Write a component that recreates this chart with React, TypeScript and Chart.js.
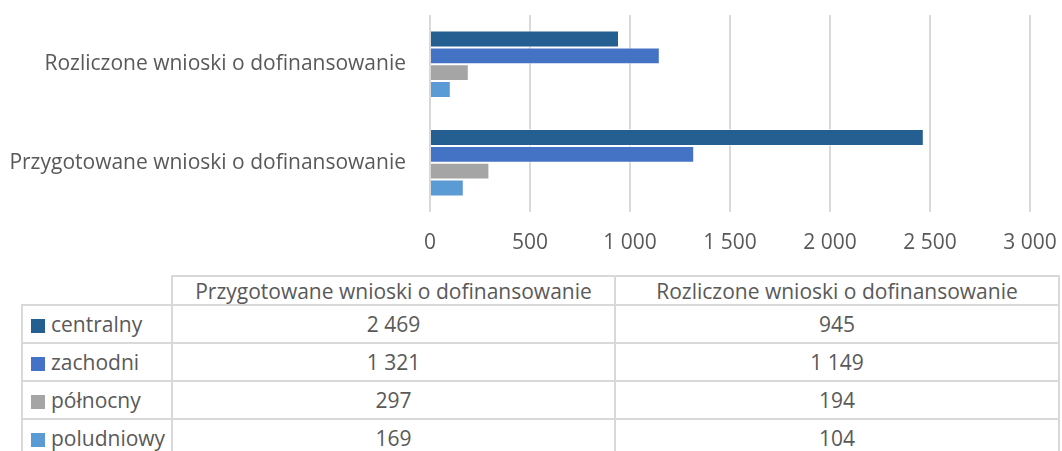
import React, { useEffect, useRef } from "react";
import { Chart, registerables } from "chart.js";

Chart.register(...registerables);

const categories = [
  "Przygotowane wnioski o dofinansowanie",
  "Rozliczone wnioski o dofinansowanie",
];
const seriesNames = ["centralny", "zachodni", "północny", "poludniowy"];
const centralny = [2469, 945];
const zachodni = [1321, 1149];
const polnocny = [297, 194];
const poludniowy = [169, 104];
const seriesValues = [centralny, zachodni, polnocny, poludniowy];
const seriesColors = ["#255E91", "#4472C4", "#A5A5A5", "#5B9BD5"];
const xTicks = [0, 500, 1000, 1500, 2000, 2500, 3000];

const FONT = "'Open Sans', sans-serif";
const TEXT = "#595959";
const LINE = "#d9d9d9";

const fmt = (v: number) =>
  String(v).replace(/\B(?=(\d{3})+(?!\d))/g, " ");

const CANVAS_W = 1062;
const CANVAS_H = 265;

export default function App() {
  const ref = useRef<HTMLCanvasElement | null>(null);

  useEffect(() => {
    if (!ref.current) return;
    const chart = new Chart(ref.current, {
      type: "bar",
      data: {
        labels: categories,
        datasets: seriesNames.map((name, i) => ({
          label: name,
          data: seriesValues[i],
          backgroundColor: seriesColors[i],
          borderColor: "rgba(255,255,255,0.55)",
          borderWidth: 1,
          categoryPercentage: 0.685,
          barPercentage: 1,
        })),
      },
      options: {
        indexAxis: "y",
        responsive: false,
        animation: false,
        devicePixelRatio: 1,
        layout: { padding: { top: 15, right: 32, left: 0, bottom: 0 } },
        plugins: {
          legend: { display: false },
          tooltip: { enabled: false },
        },
        scales: {
          x: {
            type: "linear",
            min: xTicks[0],
            max: xTicks[xTicks.length - 1],
            afterBuildTicks: (scale: any) => {
              scale.ticks = xTicks.map((v) => ({ value: v }));
            },
            ticks: {
              color: TEXT,
              font: { family: FONT, size: 21 },
              padding: 18,
              maxRotation: 0,
              callback: (v: any) => fmt(Number(v)),
            },
            grid: { color: LINE, lineWidth: 2, drawTicks: false },
            border: { display: false },
            afterFit: (scale: any) => {
              scale.height = CANVAS_H - 15 - 197;
              scale.paddingLeft = 0;
              scale.paddingRight = 0;
            },
          },
          y: {
            reverse: true,
            ticks: {
              color: TEXT,
              font: { family: FONT, size: 21 },
              padding: 24,
            },
            grid: { display: false, drawTicks: false },
            border: { display: false },
            afterFit: (scale: any) => {
              scale.width = 430;
              scale.paddingTop = 0;
              scale.paddingBottom = 0;
            },
          },
        },
      },
    });
    return () => chart.destroy();
  }, []);

  const cellBase: React.CSSProperties = {
    border: `2px solid ${LINE}`,
    padding: 0,
    color: TEXT,
    fontFamily: FONT,
    fontSize: 21,
    fontWeight: 400,
    verticalAlign: "middle",
    whiteSpace: "nowrap",
    overflow: "hidden",
  };

  return (
    <div
      style={{
        position: "absolute",
        left: 0,
        top: 0,
        width: CANVAS_W,
        height: 451,
        overflow: "hidden",
        background: "#ffffff",
      }}
    >
      <canvas
        ref={ref}
        width={CANVAS_W}
        height={CANVAS_H}
        style={{ position: "absolute", left: 0, top: 0, width: CANVAS_W, height: CANVAS_H }}
      />
      <table
        style={{
          position: "absolute",
          left: 21,
          top: 275,
          borderCollapse: "collapse",
          tableLayout: "fixed",
          width: 1037,
        }}
      >
        <colgroup>
          <col style={{ width: 150 }} />
          <col style={{ width: 443 }} />
          <col style={{ width: 444 }} />
        </colgroup>
        <thead>
          <tr style={{ height: 29 }}>
            <th style={{ ...cellBase, borderTop: "none", borderLeft: "none" }}></th>
            {categories.map((c) => (
              <th key={c} style={{ ...cellBase, textAlign: "center", lineHeight: "26px" }}>
                {c}
              </th>
            ))}
          </tr>
        </thead>
        <tbody>
          {seriesNames.map((name, i) => (
            <tr key={name} style={{ height: 38 }}>
              <td style={{ ...cellBase, textAlign: "left", lineHeight: "28px" }}>
                <span
                  style={{
                    display: "inline-block",
                    width: 14,
                    height: 14,
                    background: seriesColors[i],
                    marginLeft: 8,
                    marginRight: 6,
                    verticalAlign: "-1px",
                  }}
                />
                {name}
              </td>
              {seriesValues[i].map((v, j) => (
                <td key={j} style={{ ...cellBase, textAlign: "center", lineHeight: "28px" }}>
                  {fmt(v)}
                </td>
              ))}
            </tr>
          ))}
        </tbody>
      </table>
    </div>
  );
}
